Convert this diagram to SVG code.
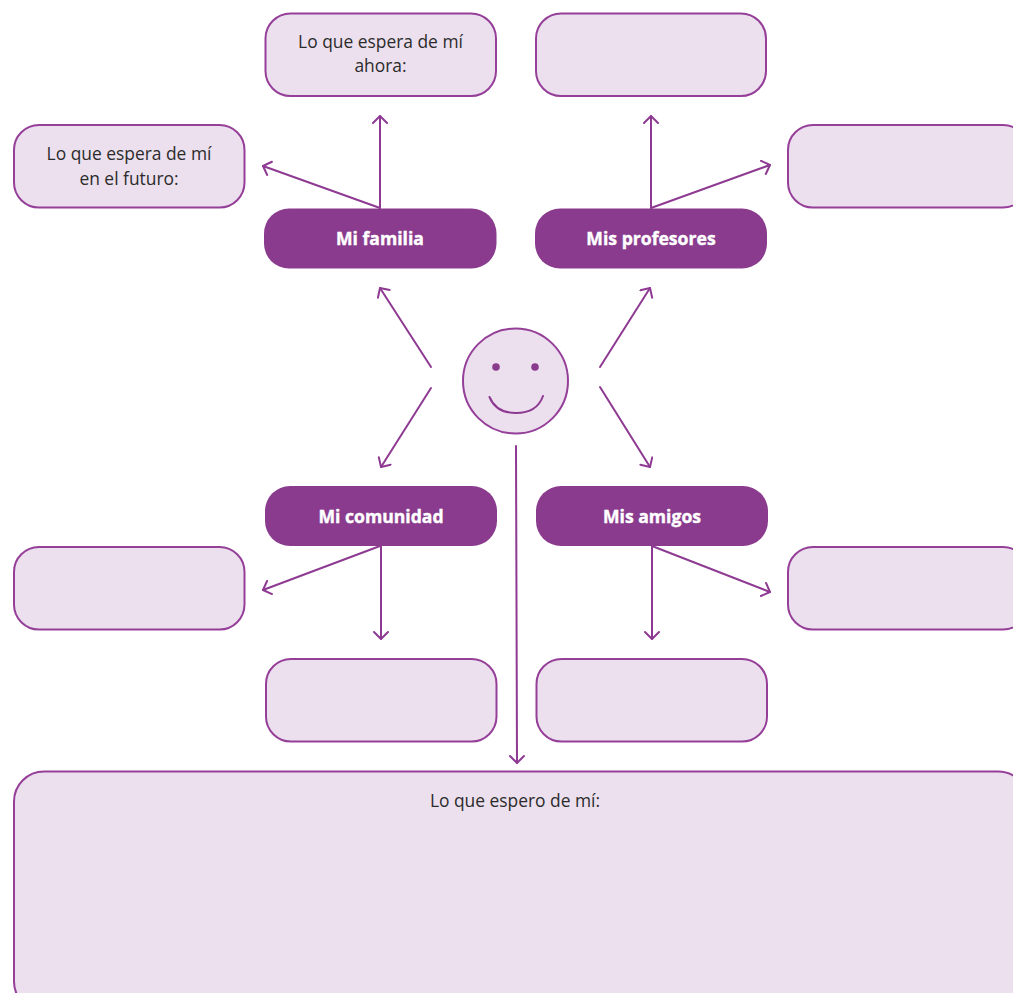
<svg xmlns="http://www.w3.org/2000/svg" width="1013" height="993" viewBox="0 0 1013 993">
<style>
.box{fill:#ece0ee;stroke:#953f99;stroke-width:2}
.hd{fill:#8a3b8e}
.t{font-family:"Open Sans","Noto Sans",sans-serif;font-size:17.4px;fill:#2b2b2b;text-anchor:middle}
.h{font-family:"Open Sans","Noto Sans",sans-serif;font-size:17.6px;font-weight:700;fill:#fff;stroke:#fff;stroke-width:.4px;text-anchor:middle}
.c{fill:none;stroke:#8e3a92;stroke-width:2;stroke-linecap:round;stroke-linejoin:round}
</style>
<defs>
<marker id="a" markerUnits="userSpaceOnUse" markerWidth="20" markerHeight="20" refX="10" refY="8" orient="auto">
<path d="M3 1L10 8L3 15" fill="none" stroke="#8e3a92" stroke-width="2" stroke-linecap="round" stroke-linejoin="round"/>
</marker>
</defs>
<rect width="1013" height="993" fill="#fff"/>
<g id="connectors" class="c">
<path marker-end="url(#a)" d="M380 208L380 116"/>
<path marker-end="url(#a)" d="M380 208L263 166"/>
<path marker-end="url(#a)" d="M651 208L651 116"/>
<path marker-end="url(#a)" d="M651 208L770 165"/>
<path marker-end="url(#a)" d="M431 367L380 288"/>
<path marker-end="url(#a)" d="M600 367L650 288"/>
<path marker-end="url(#a)" d="M431 388L381 467"/>
<path marker-end="url(#a)" d="M600 387L650 467"/>
<path marker-end="url(#a)" d="M380 546L263 590"/>
<path marker-end="url(#a)" d="M381 546L381 639"/>
<path marker-end="url(#a)" d="M652 546L770 592"/>
<path marker-end="url(#a)" d="M652 546L652 639"/>
<path marker-end="url(#a)" d="M516 446L517 763"/>
</g>
<g id="n-ahora"><rect class="box" x="265.500" y="13.500" width="230.500" height="82.500" rx="25"/><text class="t" x="380.500" y="48">Lo que espera de mí</text><text class="t" x="380.500" y="72">ahora:</text></g>
<g id="n-futuro"><rect class="box" x="14" y="125" width="230.500" height="82.500" rx="25"/><text class="t" x="129" y="160">Lo que espera de mí</text><text class="t" x="129" y="185">en el futuro:</text></g>
<g id="n-familia"><rect class="hd" x="264" y="208.500" width="232.500" height="60" rx="25"/><text class="h" x="380" y="245">Mi familia</text></g>
<g id="n-prof-a"><rect class="box" x="536" y="13.500" width="230" height="82.500" rx="25"/></g>
<g id="n-prof-b"><rect class="box" x="788" y="125" width="240" height="82.500" rx="25"/></g>
<g id="n-profesores"><rect class="hd" x="535" y="208.500" width="232" height="60" rx="25"/><text class="h" x="651" y="245">Mis profesores</text></g>
<g id="n-yo">
<circle class="box" cx="515.500" cy="381" r="52.500"/>
<circle cx="496" cy="367" r="3.800" fill="#8a3b8e"/>
<circle cx="535" cy="367" r="3.800" fill="#8a3b8e"/>
<path class="c" d="M489.500 397Q496 413 516 413Q537 413 543 396"/>
</g>
<g id="n-comunidad"><rect class="hd" x="265" y="486" width="232" height="60" rx="25"/><text class="h" x="381" y="522.500">Mi comunidad</text></g>
<g id="n-amigos"><rect class="hd" x="536" y="486" width="232" height="60" rx="25"/><text class="h" x="652" y="522.500">Mis amigos</text></g>
<g id="n-com-a"><rect class="box" x="14" y="547" width="230.500" height="82.500" rx="25"/></g>
<g id="n-com-b"><rect class="box" x="266" y="659" width="230.500" height="82.500" rx="25"/></g>
<g id="n-ami-a"><rect class="box" x="788" y="547" width="240" height="82.500" rx="25"/></g>
<g id="n-ami-b"><rect class="box" x="536.500" y="659" width="230.500" height="82.500" rx="25"/></g>
<g id="n-espero"><rect class="box" x="14" y="771.500" width="1014" height="240" rx="30"/><text class="t" x="515" y="806.500">Lo que espero de mí:</text></g>
</svg>
